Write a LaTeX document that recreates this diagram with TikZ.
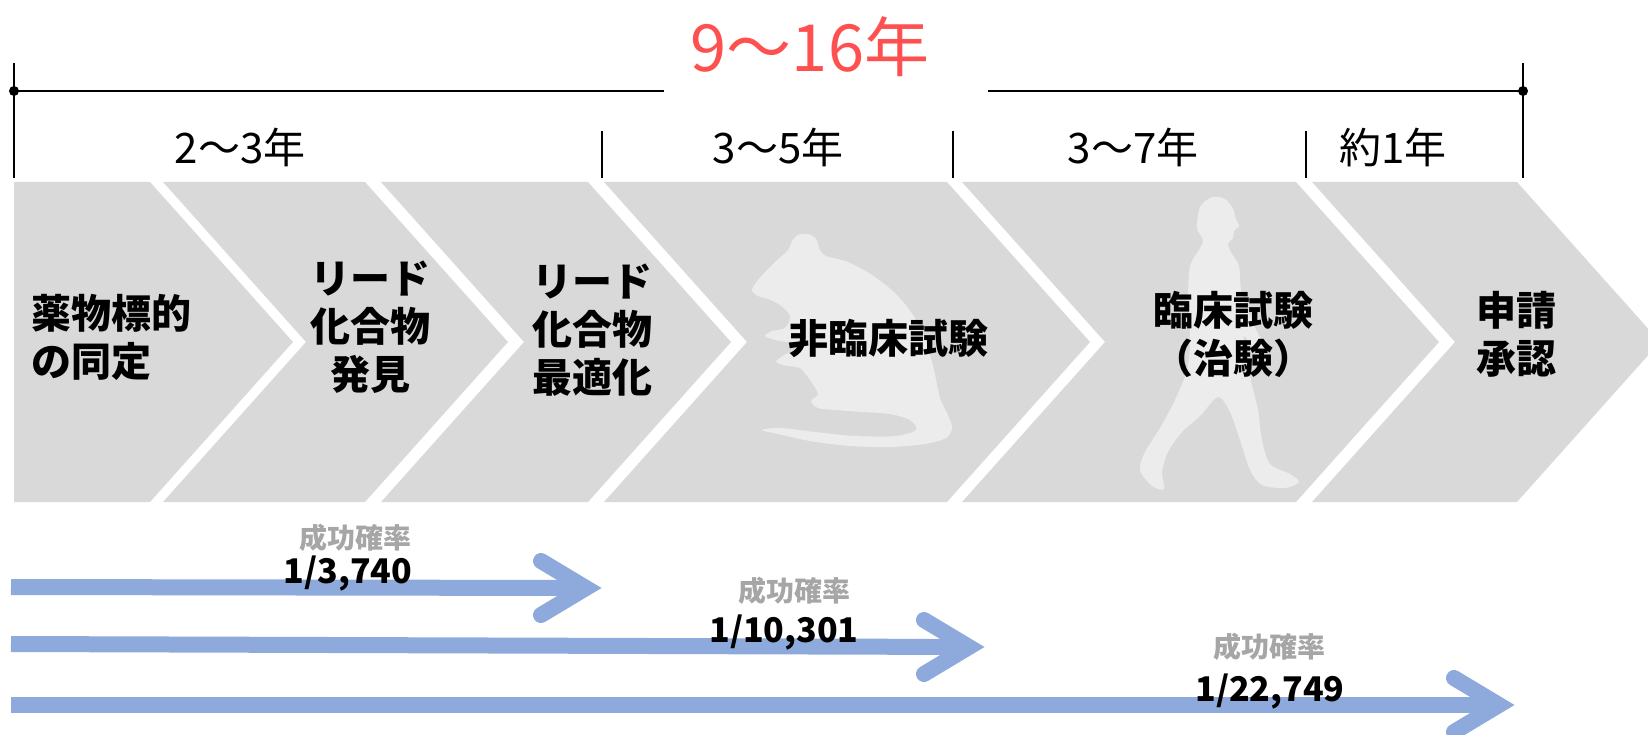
\documentclass[tikz,border=0pt]{standalone}
\usepackage{fontspec}
\setmainfont{Noto Sans CJK JP}
\usetikzlibrary{calc}
\definecolor{chevgray}{HTML}{D9D9D9}
\definecolor{silhgray}{HTML}{ECECEC}
\definecolor{rategray}{HTML}{A6A6A6}
\definecolor{flowblue}{HTML}{8EA9DB}
\definecolor{spanred}{HTML}{FF5050}
\begin{document}
\begin{tikzpicture}[x=1pt,y=-1pt,
  chev/.style={fill=chevgray,draw=none},
  silh/.style={fill=silhgray,draw=none},
  stage/.style={font=\bfseries\fontsize{40}{48}\selectfont,align=center,inner sep=0pt},
  spanlbl/.style={font=\fontsize{42}{46}\selectfont,inner sep=0pt},
  total/.style={font=\fontsize{65}{70}\selectfont,text=spanred,inner sep=0pt},
  rate/.style={font=\bfseries\fontsize{28}{30}\selectfont,text=rategray,inner sep=0pt},
  frac/.style={font=\bfseries\fontsize{34}{36}\selectfont,inner sep=0pt},
  tickline/.style={draw=black,line width=1.5pt},
  spanline/.style={draw=black,line width=2pt},
  flow/.style={draw=flowblue,line width=16pt,line cap=butt},
  flowhead/.style={draw=flowblue,line width=16pt,line cap=round,line join=miter}]
\useasboundingbox (0,0) rectangle (1648,735);

% ---- stage chevrons ----
\fill[chev] (14,182) -- (150,182) -- (293,342) -- (150,502) -- (14,502) -- cycle;
\fill[chev] (163,182) -- (365,182) -- (508,342) -- (365,502) -- (163,502) -- (306,342) -- cycle;
\fill[chev] (381,182) -- (588,182) -- (731,342) -- (588,502) -- (381,502) -- (524,342) -- cycle;
\fill[chev] (604,182) -- (947,182) -- (1090,342) -- (947,502) -- (604,502) -- (747,342) -- cycle;
\fill[chev] (962,182) -- (1296,182) -- (1439,342) -- (1296,502) -- (962,502) -- (1105,342) -- cycle;
\fill[chev] (1312,182) -- (1517,182) -- (1660,342) -- (1517,502) -- (1312,502) -- (1455,342) -- cycle;

% ---- rat silhouette ----
\fill[silh] plot[smooth cycle,tension=0.5] coordinates {
  (752,290) (758,280) (772,265) (788,250) (792,241) (798,235) (808,234)
  (816,239) (820,250) (826,256) (848,262) (872,275) (895,293) (913,315)
  (926,342) (934,370) (940,398) (948,415) (952,428) (946,438) (925,444)
  (890,447) (850,446) (810,441) (778,434) (762,430) (780,428) (815,432)
  (855,436) (895,436) (916,430) (910,420) (890,414) (862,412) (835,410)
  (818,408) (811,401) (818,394) (810,380) (800,368) (787,366) (776,362)
  (784,355) (795,350) (790,343) (775,340) (765,336) (772,331) (785,328)
  (790,316) (780,305) (768,299) (758,296)};

% ---- walking figure silhouette ----
\fill[silh] plot[smooth cycle,tension=0.5] coordinates {
  (1212,197) (1225,199) (1233,209) (1236,219) (1239,226) (1234,231)
  (1233,238) (1228,244) (1232,254) (1239,266) (1241,290) (1246,305)
  (1256,330) (1265,347) (1262,356) (1254,350) (1244,336) (1247,360)
  (1252,385) (1258,410) (1262,440) (1270,464) (1290,474) (1299,482)
  (1285,488) (1262,485) (1250,470) (1240,440) (1230,412) (1218,397)
  (1200,416) (1182,432) (1168,452) (1162,472) (1164,489) (1152,486)
  (1140,470) (1145,452) (1160,428) (1175,400) (1187,370) (1190,340)
  (1188,300) (1190,266) (1199,250) (1203,240) (1197,228) (1200,207)};

% ---- stage labels ----
\node[stage,align=left,anchor=west] (s1) at (31,337) {薬物標的\\の同定};
\node[stage] (s2) at (370,327) {リード\\化合物\\発見};
\node[stage] (s3) at (592,330) {リード\\化合物\\最適化};
\node[stage] (s4) at (888,339) {非臨床試験};
\node[stage] (s5) at (1233,334) {臨床試験\\（治験）};
\node[stage] (s6) at (1516,334) {申請\\承認};

% ---- duration scale ----
\node[total] (tot) at (810,47) {9～16年};
\coordinate (tl) at (14,91);
\coordinate (tr) at (1523,91);
\coordinate (gl) at (664,91);
\coordinate (gr) at (988,91);
\draw[spanline] (tl) -- (gl);
\draw[spanline] (gr) -- (tr);
\fill (tl) circle (5);
\fill (tr) circle (5);
\draw[tickline] (14,63) -- (14,178);
\draw[tickline] (1523,63) -- (1523,178);
\draw[tickline] (602,131) -- (602,178);
\draw[tickline] (953,131) -- (953,178);
\draw[tickline] (1306,131) -- (1306,178);
\node[spanlbl] (y1) at (240,147) {2～3年};
\node[spanlbl] (y2) at (778,147) {3～5年};
\node[spanlbl] (y3) at (1133,147) {3～7年};
\node[spanlbl] (y4) at (1393,147) {約1年};

% ---- success-rate arrows ----
\coordinate (a1s) at (11,587);
\coordinate (a1v) at (586,588);
\coordinate (a2s) at (11,644);
\coordinate (a2v) at (969,647);
\coordinate (a3s) at (11,705);
\coordinate (a3v) at (1499,705);
\foreach \s/\v in {a1s/a1v,a2s/a2v,a3s/a3v}{
  \draw[flow] (\s) -- (\v);
  \draw[flowhead] ($(\v)+(-45,-27)$) -- (\v) -- ($(\v)+(-45,27)$);
}
\node[rate] (r1) at (355,538) {成功確率};
\node[frac] (f1) at (348,574) {1/3,740};
\node[rate] (r2) at (794,591) {成功確率};
\node[frac] (f2) at (784,633) {1/10,301};
\node[rate] (r3) at (1269,647) {成功確率};
\node[frac] (f3) at (1270,692) {1/22,749};
\end{tikzpicture}
\end{document}
